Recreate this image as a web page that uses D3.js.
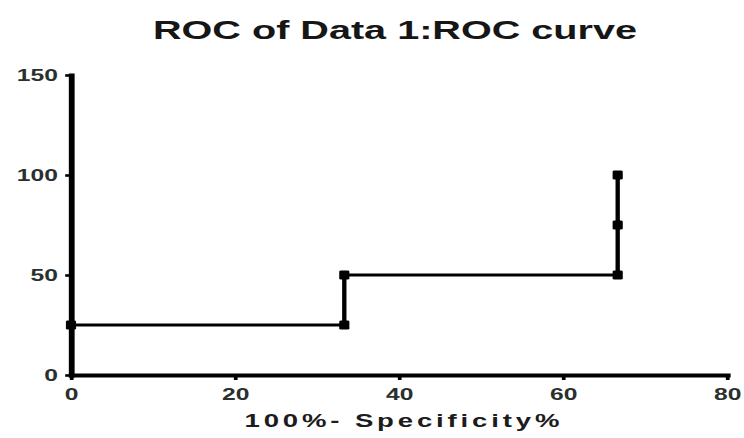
<!DOCTYPE html>
<html><head><meta charset="utf-8">
<script src="https://cdn.jsdelivr.net/npm/d3@7"></script>
<style>html,body{margin:0;padding:0;background:#fff;} svg{display:block;}</style>
</head><body>
<svg id="chart" width="744" height="438"></svg>
<script>
// Data
const xValues = [0, 33.33, 33.33, 66.67, 66.67, 66.67];
const yValues = [25, 25, 50, 50, 75, 100];
const xTicks = [0, 20, 40, 60, 80];
const yTicks = [0, 50, 100, 150];
const titleText = "ROC of Data 1:ROC curve";
const xTitleText = "100%- Specificity%";

const points = xValues.map((v, i) => [v, yValues[i]]);

const SX = 1.45; // horizontal stretch of the reference picture
const FONT = "'Liberation Sans', Arial, Helvetica, sans-serif";
const svg = d3.select("#chart");
svg.append("rect").attr("width", 744).attr("height", 438).attr("fill", "#fff");
const g = svg.append("g").attr("transform", `scale(${SX},1)`);

const x = d3.scaleLinear().domain([0, 80]).range([71 / SX, 727 / SX]);
const y = d3.scaleLinear().domain([0, 150]).range([375, 75]);

// X axis
const xAxis = g.append("g").attr("transform", `translate(0,${y(0)})`)
  .call(d3.axisBottom(x).tickValues(xTicks).tickSize(5).tickSizeOuter(0).tickPadding(8).tickFormat(d3.format("d")));
// Y axis
const yAxis = g.append("g").attr("transform", `translate(${x(0)},0)`)
  .call(d3.axisLeft(y).tickValues(yTicks).tickSize(4).tickSizeOuter(0).tickPadding(5).tickFormat(d3.format("d")));

[xAxis, yAxis].forEach(a => {
  a.attr("font-family", FONT).attr("font-size", 17).attr("font-weight", "bold");
  a.select(".domain").attr("stroke", "#000").attr("stroke-width", 4).attr("stroke-linecap", "square");
  a.selectAll(".tick line").attr("stroke", "#000").attr("stroke-width", 2.6);
  a.selectAll(".tick text").attr("fill", "#2a302e");
});

// ROC line
g.append("path").datum(points)
  .attr("fill", "none").attr("stroke", "#000").attr("stroke-width", 3)
  .attr("d", d3.line().x(d => x(d[0])).y(d => y(d[1])));

// markers
const mw = 7, mh = 9;
g.selectAll("rect.pt").data(points).enter().append("rect")
  .attr("class", "pt")
  .attr("x", d => x(d[0]) - mw / 2).attr("y", d => y(d[1]) - mh / 2)
  .attr("width", mw).attr("height", mh).attr("rx", 1.2)
  .attr("fill", "#000");

// Title
g.append("text").attr("x", 395 / SX).attr("y", 39)
  .attr("text-anchor", "middle").attr("font-family", FONT)
  .attr("font-size", 26).attr("font-weight", "bold").attr("fill", "#161616")
  .attr("textLength", 484 / SX).attr("lengthAdjust", "spacingAndGlyphs")
  .text(titleText);

// X axis title
g.append("text").attr("x", 402 / SX).attr("y", 427)
  .attr("text-anchor", "middle").attr("font-family", FONT)
  .attr("font-size", 19).attr("font-weight", "bold").attr("fill", "#1c1c1c")
  .attr("textLength", 315 / SX).attr("lengthAdjust", "spacing")
  .text(xTitleText);
</script>
</body></html>
